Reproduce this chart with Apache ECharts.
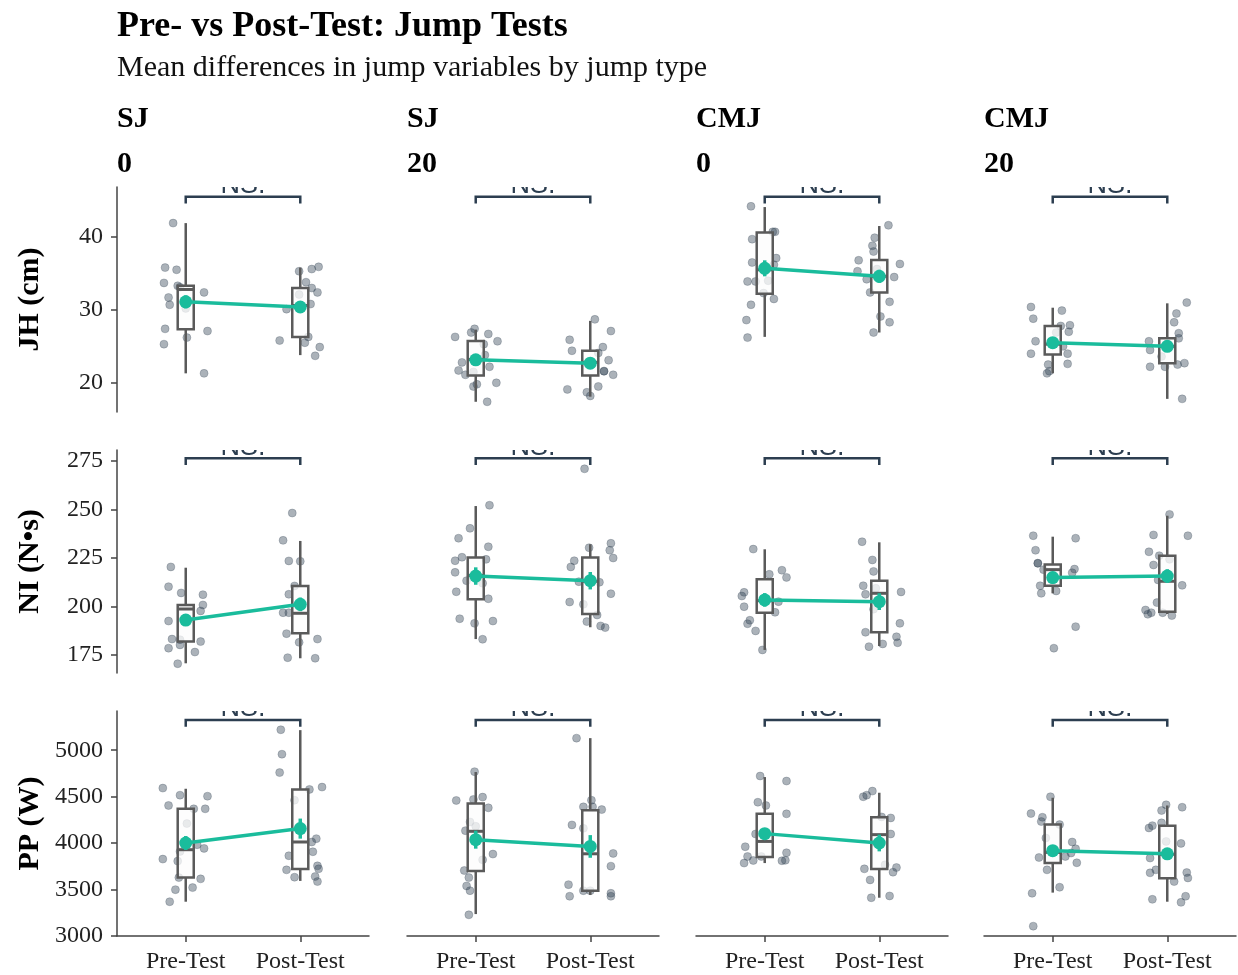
<!DOCTYPE html>
<html>
<head>
<meta charset="utf-8">
<script src="https://cdn.jsdelivr.net/npm/echarts@6/dist/echarts.min.js"></script>
<style>html,body{margin:0;padding:0;background:#fff}#chart{width:1238px;height:975px}</style>
</head>
<body>
<div id="chart"></div>
<script>
const categories = ['Pre-Test', 'Post-Test'];
const jumpTypes = ['SJ', 'SJ', 'CMJ', 'CMJ'];
const loads = ['0', '20', '0', '20'];
const variables = ['JH (cm)', 'NI (N•s)', 'PP (W)'];
const yTicks = [[20, 30, 40], [175, 200, 225, 250, 275], [3000, 3500, 4000, 4500, 5000]];
const yMin = [16.0, 165.7, 3000];
const yMax = [46.85, 280.7, 5422];
const sigLabel = 'NS.';
const bracketY = [45.5, 276.5, 5325];
const bracketTip = [44.6, 273.0, 5252];

// jittered individual points [x, value] per column (SJ0, SJ20, CMJ0, CMJ20)
const jhPoints = [
  [[0.89,41.9],[0.82,35.8],[0.92,35.5],[0.81,33.7],[0.93,33.3],[0.95,33.1],[0.85,31.7],[0.86,30.7],[1.16,32.4],[1.0,30.2],[0.82,27.4],[1.19,27.1],[1.01,26.2],[0.81,25.3],[1.16,21.3],
   [2.16,35.9],[2.10,35.6],[1.99,35.3],[2.05,33.8],[2.10,33.0],[2.15,32.4],[1.99,32.1],[2.09,30.8],[1.88,30.1],[2.07,26.3],[1.82,25.8],[2.04,25.5],[2.17,24.9],[2.13,23.7]],
  [[0.99,27.4],[0.96,26.9],[0.82,26.3],[1.11,26.7],[1.19,25.7],[1.07,25.3],[1.08,23.8],[0.88,22.8],[0.85,21.7],[1.12,22.2],[0.91,21.1],[0.98,21.5],[1.01,19.8],[0.98,19.5],[1.18,20.0],[1.10,17.4],
   [2.04,28.7],[2.18,27.1],[1.82,25.9],[2.11,24.9],[1.84,24.4],[2.07,24.1],[2.16,23.1],[2.12,21.6],[2.12,21.6],[2.20,21.1],[1.80,19.1],[1.97,18.7],[2.07,19.5],[2.00,18.2]],
  [[0.88,44.2],[1.07,40.7],[1.09,40.7],[0.89,39.7],[1.10,37.1],[0.89,36.5],[1.08,36.2],[0.85,33.9],[0.92,33.9],[1.03,34.0],[0.99,32.3],[1.08,31.5],[0.88,30.7],[0.84,28.6],[0.85,26.2],
   [2.08,41.6],[1.96,39.9],[1.94,38.8],[1.95,38.0],[1.82,36.8],[2.18,36.3],[1.81,35.3],[1.89,34.2],[1.98,35.6],[2.13,34.5],[1.92,32.4],[2.09,31.1],[2.01,29.1],[2.09,28.3],[1.95,26.9]],
  [[0.81,30.4],[0.83,28.8],[1.08,29.9],[1.15,27.9],[1.07,27.8],[1.14,27.0],[1.03,26.9],[0.85,25.7],[1.09,25.0],[0.81,24.0],[1.13,24.0],[0.96,22.5],[1.13,22.6],[0.97,21.6],[0.95,21.3],
   [2.17,31.0],[2.08,29.5],[2.06,28.3],[2.10,26.8],[2.10,26.1],[1.84,25.7],[1.85,24.5],[1.95,23.6],[1.85,22.2],[1.98,22.2],[2.09,22.5],[2.15,22.7],[2.13,17.8]]
];
const niPoints = [
  [[0.87,220.4],[0.85,210.2],[0.96,207.0],[1.15,206.1],[1.15,200.8],[1.13,197.7],[0.85,192.5],[0.88,183.2],[0.95,182.9],[1.13,181.9],[0.85,178.5],[1.08,176.5],[0.93,170.5],[0.95,180.2],
   [1.93,248.2],[1.85,234.1],[1.90,223.5],[2.00,223.3],[1.95,210.6],[1.90,206.3],[1.85,196.8],[1.90,196.8],[1.88,186.0],[1.99,181.5],[2.15,183.2],[1.89,173.6],[2.13,173.3]],
  [[1.12,252.2],[0.95,240.3],[0.85,235.2],[1.11,230.8],[0.82,223.6],[0.88,225.4],[1.09,224.3],[0.82,217.6],[0.92,213.3],[1.06,212.0],[0.83,207.6],[1.11,204.0],[0.86,193.7],[0.99,191.3],[1.15,192.5],[1.06,183.1],
   [1.95,271.0],[2.18,232.6],[1.99,230.3],[2.17,229.0],[2.20,225.0],[1.86,223.6],[1.83,220.4],[1.90,212.8],[2.08,212.5],[2.18,206.6],[1.82,202.3],[1.94,201.1],[2.06,195.6],[1.97,192.2],[2.09,190.0],[2.13,189.1]],
  [[0.90,229.6],[1.15,218.7],[1.19,215.0],[1.04,216.6],[0.82,207.3],[0.80,205.4],[0.82,199.9],[1.12,202.5],[1.09,197.0],[0.87,192.9],[0.85,191.1],[0.92,187.4],[0.98,177.6],
   [1.85,233.4],[1.94,224.0],[1.95,218.1],[1.86,210.7],[1.88,206.3],[2.19,207.5],[1.97,209.4],[1.95,198.6],[2.18,191.3],[1.88,186.7],[2.15,184.4],[2.16,181.3],[1.91,179.3],[2.03,180.7]],
  [[0.83,236.5],[1.20,235.2],[0.85,229.0],[0.87,222.3],[0.87,222.3],[0.92,219.0],[1.19,219.3],[1.17,217.4],[0.89,210.7],[0.90,206.8],[1.03,208.0],[1.20,189.6],[1.01,178.5],
   [2.02,247.5],[1.88,236.9],[2.18,236.5],[1.84,228.2],[1.93,226.2],[1.88,221.4],[2.02,224.3],[1.92,213.7],[2.13,210.9],[1.91,202.0],[1.81,198.2],[1.86,196.8],[1.83,196.0],[1.96,196.8],[2.04,195.3]]
];
const ppPoints = [
  [[0.80,4592],[0.95,4516],[1.19,4505],[0.85,4405],[1.07,4369],[1.17,4369],[1.01,4210],[1.10,3983],[1.16,3943],[0.80,3828],[0.93,3806],[0.94,3629],[1.13,3615],[1.06,3521],[0.91,3499],[0.86,3369],[0.95,3910],
   [1.83,5220],[1.84,4957],[1.82,4759],[2.08,4578],[2.19,4603],[1.95,4462],[2.14,4048],[2.10,4012],[2.11,3907],[1.90,3864],[2.15,3755],[2.16,3723],[1.88,3712],[1.95,3633],[2.13,3640],[2.15,3586]],
  [[0.99,4769],[0.83,4459],[0.98,4470],[1.06,4495],[1.11,4380],[0.95,4228],[1.00,4181],[0.91,4134],[1.15,3882],[1.06,3820],[0.90,3705],[0.94,3629],[0.92,3539],[0.95,3488],[0.94,3228],
   [1.88,5130],[1.94,4390],[2.01,4462],[2.02,4390],[2.10,4361],[1.84,4196],[1.94,4159],[2.20,3889],[2.18,3752],[1.81,3553],[1.94,3488],[2.00,3488],[2.18,3460],[1.82,3428],[2.18,3428]],
  [[0.96,4722],[1.19,4668],[0.94,4440],[1.01,4405],[1.19,4315],[0.92,4098],[0.83,3961],[1.19,3896],[0.85,3856],[0.90,3813],[0.82,3785],[0.97,3856],[1.15,3810],[1.18,3815],
   [1.94,4560],[1.89,4516],[1.86,4499],[2.02,4282],[2.10,4271],[2.10,4098],[1.97,4001],[2.05,3766],[2.15,3737],[2.12,3687],[1.87,3723],[1.92,3604],[1.93,3412],[2.09,3431]],
  [[0.98,4499],[0.81,4318],[0.91,4278],[0.90,4232],[1.06,4199],[0.94,4055],[1.17,4012],[1.20,3939],[1.16,3893],[1.11,3856],[0.88,3845],[1.21,3788],[0.95,3712],[1.06,3525],[0.82,3460],[0.83,3106],
   [1.99,4412],[2.13,4386],[1.95,4351],[1.95,4218],[1.87,4188],[1.84,4163],[1.99,4018],[2.12,3997],[1.85,3839],[1.90,3712],[1.85,3680],[2.17,3683],[2.18,3625],[2.06,3586],[1.87,3395],[2.16,3428],[2.12,3362]]
];

// box stats [min, q1, median, q3, max] for [pre, post] per column
const jhBoxes = [
  [[21.3,27.35,32.8,33.3,41.9],[23.8,26.3,30.6,33.0,35.8]],
  [[17.4,21.0,23.2,25.75,27.3],[18.1,21.0,22.8,24.4,28.5]],
  [[26.3,32.2,35.5,40.6,44.1],[26.9,32.4,34.6,36.85,41.5]],
  [[21.3,23.9,25.3,27.8,30.3],[17.8,22.7,25.0,26.1,30.9]]
];
const niBoxes = [
  [[170.7,181.9,198.7,200.8,220.0],[173.3,186.2,196.5,210.6,233.8]],
  [[183.2,203.7,216.0,225.2,251.8],[189.3,196.1,213.0,225.2,232.1]],
  [[177.6,196.8,203.0,214.0,229.5],[179.6,186.7,206.8,213.3,233.1]],
  [[206.8,210.7,219.0,221.7,236.0],[196.1,197.3,213.0,226.2,246.8]]
];
const ppBoxes = [
  [[3369,3629,3929,4369,4585],[3593,3720,4012,4578,5216]],
  [[3236,3701,4127,4426,4765],[3442,3488,3885,4354,5130]],
  [[3785,3850,4018,4315,4711],[3412,3720,4091,4278,4542]],
  [[3467,3785,3900,4199,4488],[3369,3622,3880,4188,4405]]
];
// means [pre, post] and standard errors
const jhMeans = [[31.1,30.4],[23.15,22.7],[35.7,34.6],[25.5,25.0]];
const niMeans = [[193.0,201.1],[215.7,213.3],[203.4,202.5],[214.9,215.7]];
const ppMeans = [[4001,4156],[4037,3964],[4102,4001],[3918,3885]];
const jhSE = [[0.9,0.8],[0.6,0.6],[1.1,0.9],[0.6,0.6]];
const niSE = [[2.5,3.5],[4.5,4.5],[3.5,4.3],[3.0,3.5]];
const ppSE = [[75,108],[97,122],[60,90],[55,60]];

const pointsByRow = [jhPoints, niPoints, ppPoints];
const boxesByRow = [jhBoxes, niBoxes, ppBoxes];
const meansByRow = [jhMeans, niMeans, ppMeans];
const seByRow = [jhSE, niSE, ppSE];

const SERIF = '"Liberation Serif", "Times New Roman", serif';
const TEAL = '#1abc9c';
const BOXC = '#5a5a5a';
const NAVY = '#2c3e50';

const colLefts = [117, 407, 696, 984];
const rowTops = [187, 450, 711];
const rowHeights = [225, 223, 225];
const gridW = 252;

function renderBox(params, api) {
  const x = api.value(0);
  const pLo = api.coord([x, api.value(1)]);
  const pQ1 = api.coord([x, api.value(2)]);
  const pMed = api.coord([x, api.value(3)]);
  const pQ3 = api.coord([x, api.value(4)]);
  const pHi = api.coord([x, api.value(5)]);
  const w = api.size([0.14, 0])[0];
  const cx = pLo[0];
  const ls = { stroke: BOXC, lineWidth: 2.5 };
  return {
    type: 'group',
    children: [
      { type: 'line', shape: { x1: cx, y1: pHi[1], x2: cx, y2: pQ3[1] }, style: ls },
      { type: 'line', shape: { x1: cx, y1: pQ1[1], x2: cx, y2: pLo[1] }, style: ls },
      { type: 'rect', shape: { x: cx - w / 2, y: pQ3[1], width: w, height: pQ1[1] - pQ3[1] },
        style: { fill: 'rgba(252,252,252,0.75)', stroke: BOXC, lineWidth: 2.5 } },
      { type: 'line', shape: { x1: cx - w / 2, y1: pMed[1], x2: cx + w / 2, y2: pMed[1] },
        style: { stroke: BOXC, lineWidth: 3 } }
    ]
  };
}
function renderErr(params, api) {
  const x = api.value(0), m = api.value(1), se = api.value(2);
  const a = api.coord([x, m + se]), b = api.coord([x, m - se]);
  return { type: 'line', shape: { x1: a[0], y1: a[1], x2: b[0], y2: b[1] },
           style: { stroke: TEAL, lineWidth: 3.5 } };
}
function renderBracket(params, api) {
  const x1 = api.value(0), x2 = api.value(1), y = api.value(2), yt = api.value(3);
  const p1 = api.coord([x1, yt]), p2 = api.coord([x1, y]), p3 = api.coord([x2, y]), p4 = api.coord([x2, yt]);
  return {
    type: 'group',
    children: [
      { type: 'polyline', shape: { points: [p1, p2, p3, p4] },
        style: { stroke: NAVY, lineWidth: 2.5, fill: null } },
      { type: 'text', x: (p2[0] + p3[0]) / 2, y: p2[1] - 11,
        style: { text: sigLabel, fill: NAVY, fontSize: 27, fontFamily: '"Liberation Sans", Arial, sans-serif',
                 align: 'center', verticalAlign: 'middle' } }
    ]
  };
}

const grids = [], xAxes = [], yAxes = [], series = [];
const titles = [
  { text: 'Pre- vs Post-Test: Jump Tests', left: 117, top: 9, padding: 0,
    textStyle: { fontFamily: SERIF, fontWeight: 'bold', fontSize: 36, color: '#000' } },
  { text: 'Mean differences in jump variables by jump type', left: 117, top: 53, padding: 0,
    textStyle: { fontFamily: SERIF, fontWeight: 'normal', fontSize: 30, color: '#111' } }
];
for (let c = 0; c < 4; c++) {
  titles.push({ text: jumpTypes[c], left: colLefts[c], top: 104, padding: 0,
    textStyle: { fontFamily: SERIF, fontWeight: 'bold', fontSize: 30, color: '#000' } });
  titles.push({ text: loads[c], left: colLefts[c], top: 149, padding: 0,
    textStyle: { fontFamily: SERIF, fontWeight: 'bold', fontSize: 30, color: '#000' } });
}

for (let r = 0; r < 3; r++) {
  for (let c = 0; c < 4; c++) {
    const idx = r * 4 + c;
    grids.push({ left: colLefts[c], top: rowTops[r], width: gridW, height: rowHeights[r], containLabel: false });
    xAxes.push({
      gridIndex: idx, type: 'value', min: 0.4, max: 2.6, show: r === 2,
      axisLine: { show: true, lineStyle: { color: '#444', width: 1.5 } },
      axisTick: { show: true, customValues: [1, 2], length: 6, lineStyle: { color: '#444', width: 1.5 } },
      axisLabel: { show: true, customValues: [1, 2], formatter: v => categories[Math.round(v) - 1],
                   fontFamily: SERIF, fontSize: 24, color: '#222', margin: 14 },
      splitLine: { show: false }
    });
    yAxes.push({
      gridIndex: idx, type: 'value', min: yMin[r], max: yMax[r], show: c === 0,
      axisLine: { show: true, lineStyle: { color: '#444', width: 1.5 } },
      axisTick: { show: true, customValues: yTicks[r], length: 6, lineStyle: { color: '#444', width: 1.5 } },
      axisLabel: { show: true, customValues: yTicks[r], formatter: v => String(v),
                   fontFamily: SERIF, fontSize: 24, color: '#222', margin: 14 },
      splitLine: { show: false },
      name: c === 0 ? variables[r] : '', nameLocation: 'middle', nameGap: 72,
      nameTextStyle: { fontFamily: SERIF, fontWeight: 'bold', fontSize: 30, color: '#000' }
    });
    series.push({
      type: 'scatter', xAxisIndex: idx, yAxisIndex: idx, data: pointsByRow[r][c],
      symbolSize: 8, itemStyle: { color: 'rgba(44,62,80,0.5)', borderColor: 'rgba(44,62,80,0.3)', borderWidth: 1 },
      z: 2, silent: true
    });
    const bx = boxesByRow[r][c];
    series.push({
      type: 'custom', xAxisIndex: idx, yAxisIndex: idx, renderItem: renderBox, z: 3,
      encode: { x: 0, y: [1, 2, 3, 4, 5] },
      data: [[1].concat(bx[0]), [2].concat(bx[1])]
    });
    const mn = meansByRow[r][c], se = seByRow[r][c];
    series.push({
      type: 'custom', xAxisIndex: idx, yAxisIndex: idx, renderItem: renderErr, z: 4,
      encode: { x: 0, y: 1 },
      data: [[1, mn[0], se[0]], [2, mn[1], se[1]]]
    });
    series.push({
      type: 'line', xAxisIndex: idx, yAxisIndex: idx, data: [[1, mn[0]], [2, mn[1]]],
      symbol: 'circle', symbolSize: 13, lineStyle: { color: TEAL, width: 3.5 },
      itemStyle: { color: TEAL }, z: 5, silent: true
    });
    series.push({
      type: 'custom', xAxisIndex: idx, yAxisIndex: idx, renderItem: renderBracket, z: 6, clip: true,
      encode: { x: [0, 1], y: [2, 3] },
      data: [[1, 2, bracketY[r], bracketTip[r]]]
    });
  }
}

const chart = echarts.init(document.getElementById('chart'), null, { renderer: 'canvas' });
chart.setOption({
  backgroundColor: '#fff',
  animation: false,
  title: titles,
  grid: grids,
  xAxis: xAxes,
  yAxis: yAxes,
  series: series
});
</script>
</body>
</html>
